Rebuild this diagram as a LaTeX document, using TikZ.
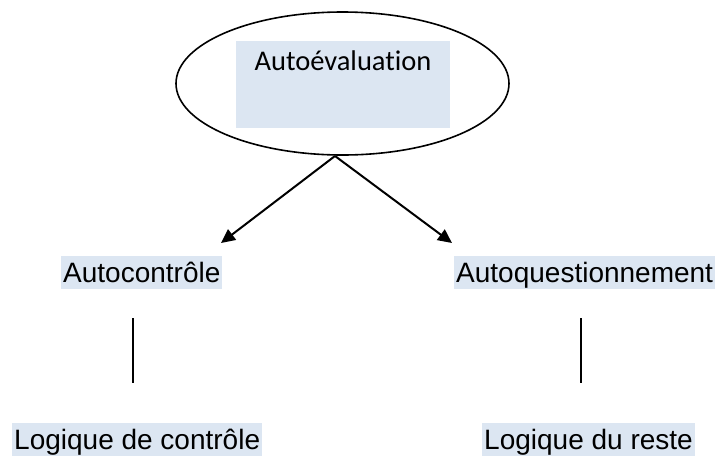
\documentclass[tikz,border=0pt]{standalone}
\usepackage{fontspec}
\usetikzlibrary{shapes.geometric,arrows.meta}
\newfontfamily\calibrifont[Ligatures=NoCommon]{Carlito}
\newfontfamily\arialfont{Liberation Sans}
\definecolor{hlblue}{HTML}{DCE6F2}
\tikzset{
  hltext/.style={fill=hlblue, anchor=base west, inner xsep=2pt, inner ysep=0pt,
    text height=26pt, text depth=7pt,
    font=\arialfont\fontsize{28}{32}\selectfont},
  linkline/.style={line width=1.8pt, draw=black},
  arrowline/.style={line width=2pt, -{Triangle[length=14pt,width=13pt]}}
}
\begin{document}
\begin{tikzpicture}[x=1pt,y=-1pt]
  \useasboundingbox (0,0) rectangle (724,456);

  % top ellipse with its shaded label panel
  \node[draw, ellipse, line width=1.6pt, minimum width=333pt, minimum height=143pt,
        inner sep=0pt] (eval) at (342.5,83.5) {};
  \node[fill=hlblue, minimum width=214pt, minimum height=87pt, inner sep=0pt,
        anchor=north west] (evalbox) at (236,41) {};
  \node[anchor=base, inner sep=0pt, font=\calibrifont\fontsize{28.5}{34}\selectfont]
        (evaltext) at (343,70) {Autoévaluation};

  % second level
  \node[hltext] (ctrl) at (61,282) {Autocontrôle};
  \node[hltext] (quest) at (454,282) {Autoquestionnement};

  % third level
  \node[hltext] (logctrl) at (12,449) {Logique de contrôle};
  \node[hltext] (logrest) at (482,449) {Logique du reste};

  % arrows out of the ellipse
  \coordinate (apex) at (335,156);
  \coordinate (tipL) at (221,243);
  \coordinate (tipR) at (452,243);
  \draw[arrowline] (apex) -- (tipL);
  \draw[arrowline] (apex) -- (tipR);

  % plain links between second and third level
  \coordinate (ctrlA) at (133,318);
  \coordinate (ctrlB) at (133,383);
  \coordinate (questA) at (581,318);
  \coordinate (questB) at (581,383);
  \draw[linkline] (ctrlA) -- (ctrlB);
  \draw[linkline] (questA) -- (questB);
\end{tikzpicture}
\end{document}
